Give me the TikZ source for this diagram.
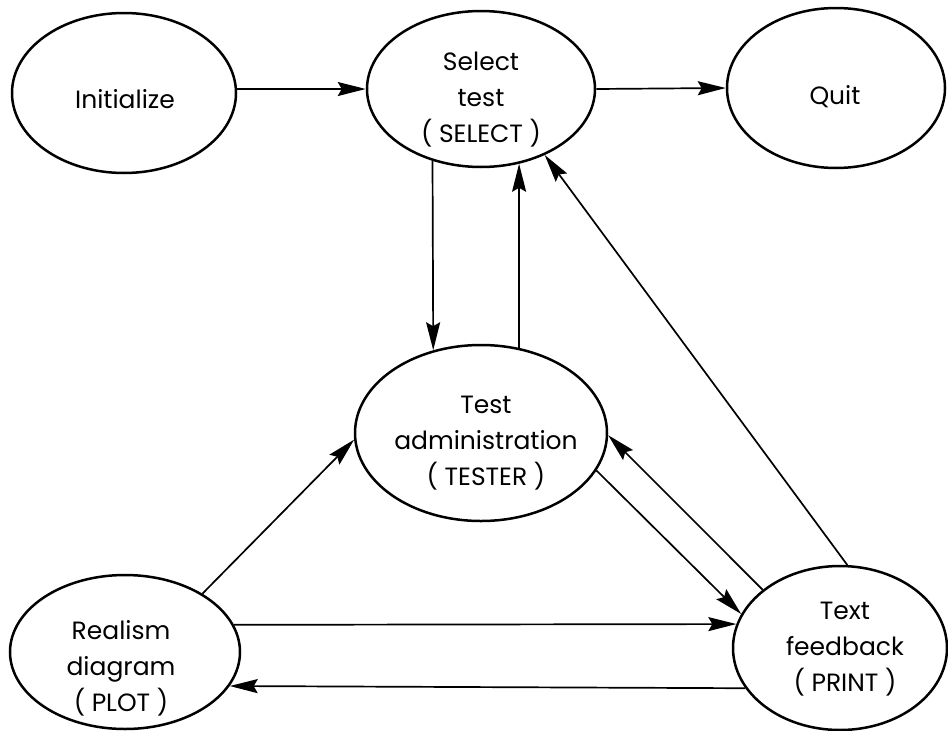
\documentclass[tikz,border=0pt]{standalone}
\usepackage{fontspec}
\setmainfont{Poppins}
\usetikzlibrary{shapes.geometric,arrows.meta}
\begin{document}
\begin{tikzpicture}[x=1pt,y=-1pt,
  state/.style={draw, ellipse, line width=2.5pt, inner sep=0pt},
  lbl/.style={align=center, font=\fontsize{25}{36}\selectfont, inner sep=0pt},
  conn/.style={line width=1.7pt, -{Stealth[length=28pt,width=14pt,inset=4pt]}}]
\useasboundingbox (0,0) rectangle (948,731);
% states
\node[state, minimum width=224pt, minimum height=160pt] (init) at (124,93) {};
\node[state, minimum width=228pt, minimum height=156pt] (sel)  at (481,89) {};
\node[state, minimum width=218pt, minimum height=160pt] (quit) at (836,88) {};
\node[state, minimum width=252pt, minimum height=176pt] (tst)  at (481,433) {};
\node[state, minimum width=230pt, minimum height=154pt] (plot) at (125,652) {};
\node[state, minimum width=214pt, minimum height=164pt] (prnt) at (840,648) {};
% texts
\node[lbl] (initT) at (125,99) {Initialize};
\node[lbl] (selT)  at (481,100) {Select\\test\\( SELECT )};
\node[lbl] (quitT) at (835,97) {Quit};
\node[lbl] (tstT)  at (486,443) {Test\\administration\\( TESTER )};
\node[lbl] (plotT) at (121,668) {Realism\\diagram\\( PLOT )};
\node[lbl] (prntT) at (845,649) {Text\\feedback\\( PRINT )};
% connectors
\draw[conn] (init.2) -- (sel.180);
\draw[conn] (sel.0) -- (quit.180);
\draw[conn] (sel.-124.2) -- (tst.120.5);
\draw[conn] (tst.66.3) -- (sel.-63.4);
\draw[conn] (prnt.85.7) -- (sel.-46.7);
\draw[conn] (plot.37.5) -- (tst.-177.7);
\draw[conn] (tst.-18) -- (prnt.161.1);
\draw[conn] (prnt.143.7) -- (tst.-1);
\draw[conn] (plot.14.1) -- (prnt.167.4);
\draw[conn] (prnt.-157.5) -- (plot.-18.9);
\end{tikzpicture}
\end{document}
